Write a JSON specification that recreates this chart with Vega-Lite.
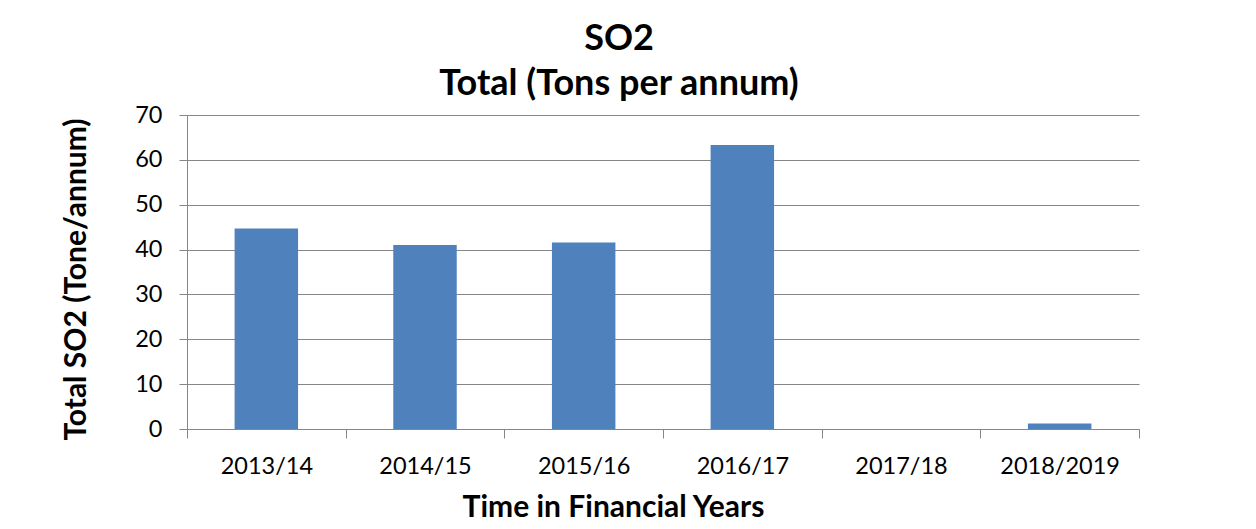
{
  "$schema": "https://vega.github.io/schema/vega-lite/v6.json",
  "width": 952,
  "height": 314,
  "autosize": {"type": "none"},
  "padding": {"left": 187, "top": 115, "right": 117, "bottom": 100},
  "background": "white",
  "title": {
    "text": ["SO2", "Total (Tons per annum)"],
    "font": "Lato",
    "fontSize": 36,
    "fontWeight": "bold",
    "color": "black",
    "lineHeight": 45,
    "anchor": "middle",
    "dx": -44,
    "offset": 0
  },
  "data": {
    "values": [
      {"year": "2013/14", "so2": 44.7},
      {"year": "2014/15", "so2": 41.0},
      {"year": "2015/16", "so2": 41.6},
      {"year": "2016/17", "so2": 63.3},
      {"year": "2017/18", "so2": 0},
      {"year": "2018/2019", "so2": 1.2}
    ]
  },
  "mark": {"type": "bar", "color": "#4f81bd", "width": {"band": 0.4}},
  "encoding": {
    "x": {
      "field": "year",
      "type": "nominal",
      "sort": null,
      "scale": {"paddingInner": 0, "paddingOuter": 0},
      "axis": {
        "title": "Time in Financial Years",
        "titleFont": "Lato",
        "titleFontSize": 30,
        "titleFontWeight": "bold",
        "titleColor": "black",
        "titleX": 426,
        "titleY": 87,
        "titleAlign": "center",
        "titleBaseline": "alphabetic",
        "labelAngle": 0,
        "labelFont": "Lato",
        "labelFontSize": 23.5,
        "labelColor": "black",
        "labelBaseline": "alphabetic",
        "labelPadding": 35,
        "tickBand": "extent",
        "tickSize": 9,
        "tickColor": "#868686",
        "domainColor": "#868686",
        "grid": false
      }
    },
    "y": {
      "field": "so2",
      "type": "quantitative",
      "scale": {"domain": [0, 70], "nice": false},
      "axis": {
        "title": "Total SO2 (Tone/annum)",
        "titleFont": "Lato",
        "titleFontSize": 30,
        "titleFontWeight": "bold",
        "titleColor": "black",
        "titleAngle": -90,
        "titleX": -102,
        "titleY": 164,
        "titleAlign": "center",
        "titleBaseline": "alphabetic",
        "values": [0, 10, 20, 30, 40, 50, 60, 70],
        "labelFont": "Lato",
        "labelFontSize": 23.5,
        "labelColor": "black",
        "labelPadding": 17,
        "tickSize": 8,
        "tickColor": "#868686",
        "domainColor": "#868686",
        "gridColor": "#868686",
        "grid": true
      }
    }
  },
  "config": {"view": {"stroke": null}}
}
